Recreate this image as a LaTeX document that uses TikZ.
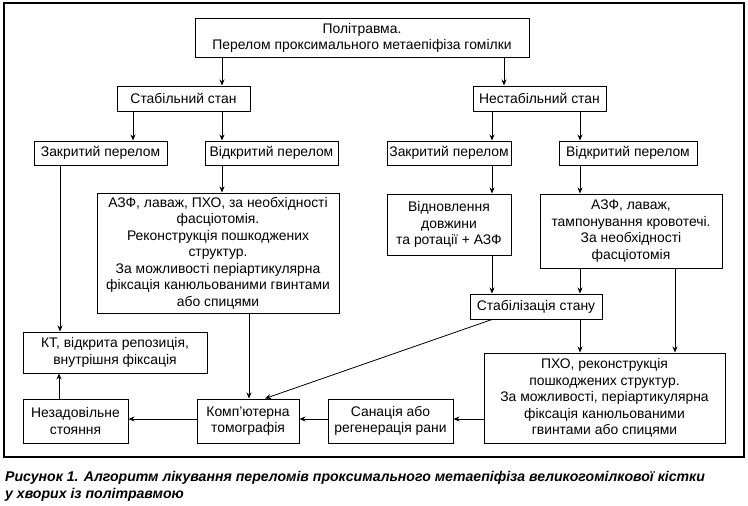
\documentclass[tikz,border=0pt]{standalone}
\usepackage{fontspec}
\setmainfont{Liberation Sans}
\usetikzlibrary{arrows.meta}
\tikzset{
  box/.style={draw, line width=1pt, inner sep=0pt, align=center, font=\fontsize{13.9}{16.5}\selectfont},
  arr/.style={line width=0.8pt, -{Stealth[length=6pt,width=5pt]}},
}
\begin{document}
\begin{tikzpicture}[x=1pt,y=-1pt]
\useasboundingbox (0,0) rectangle (748,506);
\draw[line width=1.1pt] (4,3) rectangle (744,457);
\node[box,minimum width=334,minimum height=39] (top) at (362,38) {Політравма.\\Перелом проксимального метаепіфіза гомілки};
\node[box,minimum width=133,minimum height=25] (stab) at (183.5,98.5) {Стабільний стан};
\node[box,minimum width=133,minimum height=25] (nestab) at (539.5,98.5) {Нестабільний стан};
\node[box,minimum width=133,minimum height=24] (zakL) at (100.5,153) {Закритий перелом};
\node[box,minimum width=133,minimum height=24] (vidL) at (271.5,153) {Відкритий перелом};
\node[box,minimum width=124,minimum height=24] (zakR) at (449,153) {Закритий перелом};
\node[box,minimum width=138,minimum height=24] (vidR) at (628,153) {Відкритий перелом};
\node[box,minimum width=242,minimum height=120] (azfL) at (218,253) {АЗФ, лаваж, ПХО, за необхідності\\фасціотомія.\\Реконструкція пошкоджених\\структур.\\За можливості періартикулярна\\фіксація канюльованими гвинтами\\або спицями};
\node[box,minimum width=124,minimum height=61] (vidn) at (449,224.5) {Відновлення\\довжини\\та ротації + АЗФ};
\node[box,minimum width=182,minimum height=74] (azfR) at (631,231) {АЗФ, лаваж,\\тампонування кровотечі.\\За необхідності\\фасціотомія};
\node[box,minimum width=132,minimum height=25] (stabz) at (536,306.5) {Стабілізація стану};
\node[box,minimum width=184,minimum height=41] (kt) at (115,352.5) {КТ, відкрита репозиція,\\ внутрішня фіксація};
\node[box,minimum width=241,minimum height=90] (pxo) at (604.5,398) {ПХО, реконструкція\\пошкоджених структур.\\За можливості, періартикулярна\\фіксація канюльованими\\гвинтами або спицями};
\node[box,minimum width=105,minimum height=44] (nezad) at (75.5,421) {Незадовільне\\стояння};
\node[box,minimum width=102,minimum height=44] (komp) at (248,421) {Комп’ютерна\\томографія};
\node[box,minimum width=125,minimum height=44] (sanac) at (390.5,421) {Санація або\\регенерація рани};

\draw[arr] (top.south -| 222,0) -- (stab.north -| 222,0);
\draw[arr] (top.south -| 504,0) -- (nestab.north -| 504,0);
\draw[arr] (stab.south -| 133,0) -- (zakL.north -| 133,0);
\draw[arr] (stab.south -| 222,0) -- (vidL.north -| 222,0);
\draw[arr] (nestab.south -| 492,0) -- (zakR.north -| 492,0);
\draw[arr] (nestab.south -| 580,0) -- (vidR.north -| 580,0);
\draw[arr] (zakL.south -| 60,0) -- (kt.north -| 60,0);
\draw[arr] (vidL.south -| 222,0) -- (azfL.north -| 222,0);
\draw[arr] (zakR.south -| 492,0) -- (vidn.north -| 492,0);
\draw[arr] (vidR.south -| 580,0) -- (azfR.north -| 580,0);
\draw[arr] (vidn.south -| 492,0) -- (stabz.north -| 492,0);
\draw[arr] (azfR.south -| 580,0) -- (stabz.north -| 580,0);
\draw[arr] (azfR.south -| 675,0) -- (pxo.north -| 675,0);
\draw[arr] (stabz.south -| 580,0) -- (pxo.north -| 580,0);
\draw[arr] (stabz.south -| 492,0) -- (komp.north -| 265,0);
\draw[arr] (azfL.south -| 249,0) -- (komp.north -| 249,0);
\draw[arr] (komp.west |- 0,419) -- (nezad.east |- 0,419);
\draw[arr] (sanac.west |- 0,419) -- (komp.east |- 0,419);
\draw[arr] (pxo.west |- 0,419) -- (sanac.east |- 0,419);
\draw[arr] (nezad.north -| 59,0) -- (kt.south -| 59,0);

\node[anchor=north west, align=left, inner sep=0pt,
  font=\bfseries\itshape\fontsize{14.1}{16.8}\selectfont] (cap) at (5,471.5)
  {Рисунок 1. Алгоритм лікування переломів проксимального метаепіфіза великогомілкової кістки\\у хворих із політравмою};
\end{tikzpicture}
\end{document}
